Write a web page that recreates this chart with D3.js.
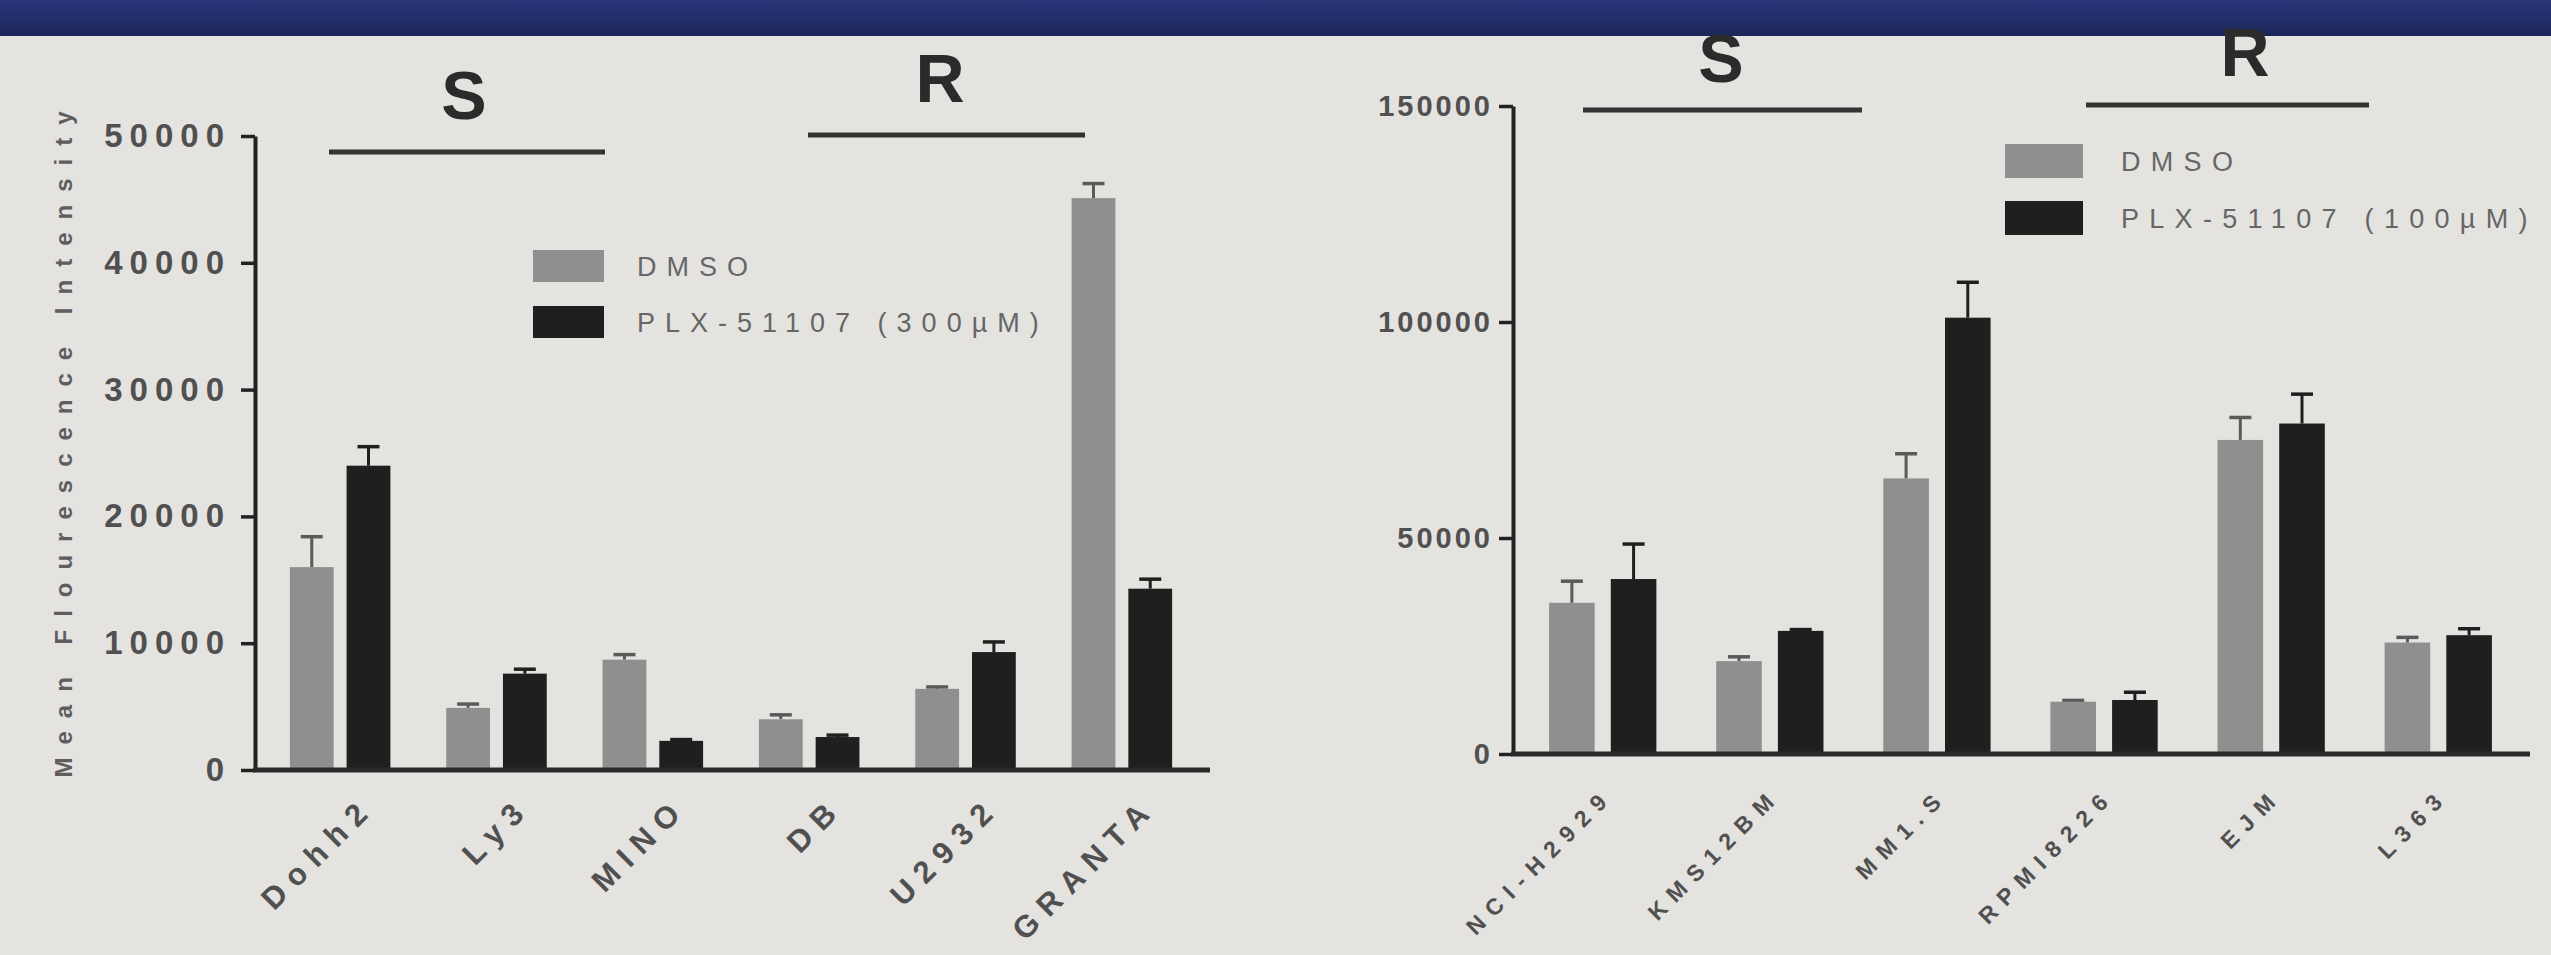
<!DOCTYPE html>
<html><head><meta charset="utf-8">
<script src="https://cdn.jsdelivr.net/npm/d3@7"></script>
<style>body{margin:0;background:#e4e3e0;} svg{display:block}</style>
</head><body>
<svg id="c" width="2551" height="955"></svg>
<script>
// ---------- data ----------
const leftCategories = ["Dohh2","Ly3","MINO","DB","U2932","GRANTA"];
const leftDMSO      = [16000, 4900, 8700, 4000, 6400, 45100];
const leftDMSOErr   = [2400,   300,  400,  350,  150,  1150];
const leftPLX       = [24000, 7600, 2300, 2600, 9300, 14300];
const leftPLXErr    = [1500,   350,  100,  150,  800,   750];
const leftTicks     = [0, 10000, 20000, 30000, 40000, 50000];
const leftLegend    = ["DMSO", "PLX-51107 (300\u00b5M)"];

const rightCategories = ["NCI-H2929","KMS12BM","MM1.S","RPMI8226","EJM","L363"];
const rightDMSO      = [35000, 21500,  63800, 12100, 72700, 25800];
const rightDMSOErr   = [5000,   1000,   5700,   300,  5200,  1200];
const rightPLX       = [40500, 28500, 101000, 12500, 76500, 27500];
const rightPLXErr    = [8100,    300,   8200,  1800,  6800,  1500];
const rightTicks     = [0, 50000, 100000, 150000];
const rightLegend    = ["DMSO", "PLX-51107 (100\u00b5M)"];

const seriesNames = ["DMSO", "PLX"];
const groupLabels = ["S", "R"];
const yTitle = "Mean Flourescence Intensity";

// ---------- drawing ----------
const W = 2551, H = 955;
const svg = d3.select("#c");
const FONT = "'Liberation Sans', Arial, sans-serif";
const colors = {DMSO: "#8f8f8f", PLX: "#1f1f1f"};
const errColors = {DMSO: "#5a5a5a", PLX: "#1f1f1f"};

svg.append("rect").attr("width", W).attr("height", H).attr("fill", "#e4e3e0");
const defs = svg.append("defs");
const bg = defs.append("linearGradient").attr("id", "band").attr("x1", 0).attr("x2", 0).attr("y1", 0).attr("y2", 1);
bg.append("stop").attr("offset", 0).attr("stop-color", "#29377a");
bg.append("stop").attr("offset", 1).attr("stop-color", "#1b2657");
svg.append("rect").attr("width", W).attr("height", 36).attr("fill", "url(#band)");

function drawChart(cfg) {
  const g = svg.append("g");
  const x0 = d3.scaleBand().domain(cfg.cats).range(cfg.xRange)
    .paddingInner(cfg.padIn).paddingOuter(cfg.padOut);
  const x1 = d3.scaleBand().domain(seriesNames).range([0, x0.bandwidth()]).paddingInner(cfg.padBar);
  const y = d3.scaleLinear().domain([0, cfg.maxY]).range(cfg.yRange);

  const rows = cfg.cats.map((c, i) => ({
    cat: c,
    vals: [
      {s: "DMSO", v: cfg.dmso[i], e: cfg.dmsoErr[i]},
      {s: "PLX", v: cfg.plx[i], e: cfg.plxErr[i]}
    ]
  }));

  const grp = g.selectAll("g.grp").data(rows).join("g")
    .attr("transform", d => `translate(${x0(d.cat)},0)`);

  // error bars
  const eb = grp.selectAll("g.eb").data(d => d.vals).join("g");
  eb.append("line")
    .attr("x1", d => x1(d.s) + x1.bandwidth() / 2).attr("x2", d => x1(d.s) + x1.bandwidth() / 2)
    .attr("y1", d => y(d.v)).attr("y2", d => y(d.v + d.e))
    .attr("stroke", d => errColors[d.s]).attr("stroke-width", 3);
  eb.append("line")
    .attr("x1", d => x1(d.s) + x1.bandwidth() / 2 - 11).attr("x2", d => x1(d.s) + x1.bandwidth() / 2 + 11)
    .attr("y1", d => y(d.v + d.e)).attr("y2", d => y(d.v + d.e))
    .attr("stroke", d => errColors[d.s]).attr("stroke-width", 3.5);

  // bars
  grp.selectAll("rect").data(d => d.vals).join("rect")
    .attr("x", d => x1(d.s)).attr("width", x1.bandwidth())
    .attr("y", d => y(d.v)).attr("height", d => y(0) - y(d.v))
    .attr("fill", d => colors[d.s]);

  // y axis
  const ya = g.append("g").attr("transform", `translate(${cfg.xRange[0]},0)`)
    .call(d3.axisLeft(y).tickValues(cfg.ticks).tickFormat(d3.format("d")).tickSize(14).tickSizeOuter(0).tickPadding(cfg.tickPad));
  ya.select(".domain").attr("stroke", "#222").attr("stroke-width", 4);
  ya.selectAll(".tick line").attr("stroke", "#222").attr("stroke-width", 3.5);
  ya.selectAll(".tick text").attr("font-family", FONT).attr("font-weight", "bold")
    .attr("font-size", cfg.tickFont).attr("letter-spacing", cfg.tickSpacing).attr("fill", "#505050");

  // x axis
  const xa = g.append("g").attr("transform", `translate(0,${y(0)})`)
    .call(d3.axisBottom(x0).tickSize(0).tickSizeOuter(0));
  xa.select(".domain").attr("stroke", "#2a2a2a").attr("stroke-width", 5)
    .attr("d", `M${cfg.xRange[0] - 2},0H${cfg.xEnd}`);
  xa.selectAll(".tick text")
    .attr("font-family", FONT).attr("font-weight", "bold").attr("font-size", cfg.labFont)
    .attr("letter-spacing", cfg.labSpacing).attr("fill", "#505050")
    .attr("text-anchor", "end").attr("x", 0).attr("y", 0).attr("dy", "0.35em")
    .attr("transform", `translate(${cfg.labDx},${cfg.labDy}) rotate(-45)`);

  // S / R headers
  cfg.headers.forEach((h, i) => {
    g.append("text").attr("x", h.x).attr("y", h.ty).attr("text-anchor", "middle")
      .attr("font-family", FONT).attr("font-weight", "bold").attr("font-size", 68)
      .attr("fill", "#2b2b2b").text(groupLabels[i]);
    g.append("line").attr("x1", h.x1).attr("x2", h.x2).attr("y1", h.ly).attr("y2", h.ly)
      .attr("stroke", "#333").attr("stroke-width", 5);
  });

  // legend
  const L = cfg.legend;
  seriesNames.forEach((s, i) => {
    g.append("rect").attr("x", L.x).attr("y", L.y + i * L.gap).attr("width", L.w).attr("height", L.h)
      .attr("fill", colors[s]);
    g.append("text").attr("x", L.tx).attr("y", L.y + i * L.gap + L.h / 2).attr("dy", "0.36em")
      .attr("font-family", FONT).attr("font-size", L.font).attr("letter-spacing", L.spacing)
      .attr("fill", "#666").text(cfg.legendText[i]);
  });
}

drawChart({
  cats: leftCategories, dmso: leftDMSO, dmsoErr: leftDMSOErr, plx: leftPLX, plxErr: leftPLXErr,
  ticks: leftTicks, maxY: 50000, xRange: [255, 1207], xEnd: 1210, yRange: [770, 136],
  padIn: 0.357, padOut: 0.223, padBar: 0.228,
  tickFont: 33, tickSpacing: 7, tickPad: 10, labFont: 31, labSpacing: 9.5, labDx: 28, labDy: 32,
  headers: [
    {x: 464, ty: 119, x1: 329, x2: 605, ly: 152},
    {x: 940, ty: 102, x1: 808, x2: 1085, ly: 135}
  ],
  legend: {x: 533, y: 250, w: 71, h: 32, gap: 56, tx: 637, font: 27, spacing: 10},
  legendText: leftLegend
});

drawChart({
  cats: rightCategories, dmso: rightDMSO, dmsoErr: rightDMSOErr, plx: rightPLX, plxErr: rightPLXErr,
  ticks: rightTicks, maxY: 150000, xRange: [1513, 2528], xEnd: 2530, yRange: [754, 106],
  padIn: 0.358, padOut: 0.216, padBar: 0.261,
  tickFont: 29, tickSpacing: 3, tickPad: 6, labFont: 23, labSpacing: 9, labDx: 6, labDy: 38,
  headers: [
    {x: 1721, ty: 82, x1: 1583, x2: 1862, ly: 110},
    {x: 2245, ty: 76, x1: 2086, x2: 2369, ly: 105}
  ],
  legend: {x: 2005, y: 144, w: 78, h: 34, gap: 57, tx: 2121, font: 27, spacing: 10.3},
  legendText: rightLegend
});

// y axis title (left chart)
svg.append("text").attr("transform", "translate(64,438) rotate(-90)")
  .attr("text-anchor", "middle").attr("dy", "0.35em")
  .attr("font-family", FONT).attr("font-weight", "bold").attr("font-size", 24)
  .attr("letter-spacing", 13).attr("fill", "#5e5e5e").text(yTitle);
</script>
</body></html>
